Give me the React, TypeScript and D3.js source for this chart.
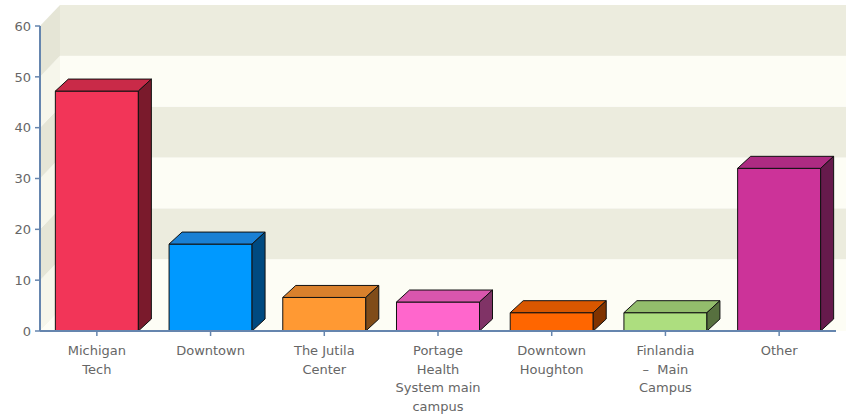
import React from "react";
import * as d3 from "d3";

// data
const categories = [
  "Michigan Tech",
  "Downtown",
  "The Jutila Center",
  "Portage Health System main campus",
  "Downtown Houghton",
  "Finlandia - Main Campus",
  "Other",
];
const labelLines = [
  ["Michigan", "Tech"],
  ["Downtown"],
  ["The Jutila", "Center"],
  ["Portage", "Health", "System main", "campus"],
  ["Downtown", "Houghton"],
  ["Finlandia", "\u2013  Main", "Campus"],
  ["Other"],
];
const values = [47.2, 17.1, 6.6, 5.7, 3.6, 3.6, 32];
const yTicks = [0, 10, 20, 30, 40, 50, 60];

// front / top / side colours per bar
const frontColors = ["#F23558", "#0099FF", "#FF9933", "#FF66CC", "#FF6600", "#ADDE7F", "#CC3399"];
const topColors = ["#C92A48", "#1A80D4", "#D9802C", "#D956AD", "#D95700", "#93BD6C", "#AD2B82"];
const sideColors = ["#7A1A2C", "#004A80", "#804C19", "#803366", "#803300", "#57703F", "#661A4C"];

const W = 846;
const H = 415;
const margin = { top: 26, right: 10, bottom: 84, left: 40 };
const plotRight = 836;
const wallDx = 20;
const wallDy = -21;
const barDx = 13;
const barDy = -12;
const font = "'DejaVu Sans', Verdana, sans-serif";

export default function App() {
  const y = d3.scaleLinear().domain([0, 60]).range([H - margin.bottom, margin.top]);
  const x = d3
    .scaleBand<string>()
    .domain(categories)
    .range([margin.left, plotRight])
    .paddingInner(0.27)
    .paddingOuter(0.135);

  const y0 = y(0);
  const bands = d3.range(0, 60, 10);

  return (
    <svg
      width={W}
      height={H}
      style={{ position: "absolute", left: 0, top: 0, display: "block" }}
      fontFamily={font}
    >
      <rect width={W} height={H} fill="#ffffff" />

      {/* back wall bands */}
      {bands.map((b, i) => (
        <rect
          key={"bw" + b}
          x={margin.left + wallDx}
          y={y(b + 10) + wallDy}
          width={W - margin.left - wallDx}
          height={y(b) - y(b + 10)}
          fill={i % 2 === 0 ? "#FDFDF5" : "#ECECDE"}
        />
      ))}
      {/* left side wall bands */}
      {bands.map((b, i) => (
        <path
          key={"sw" + b}
          d={`M${margin.left},${y(b)} L${margin.left},${y(b + 10)} L${margin.left + wallDx},${y(b + 10) + wallDy} L${margin.left + wallDx},${y(b) + wallDy} Z`}
          fill={i % 2 === 0 ? "#F6F6EB" : "#E5E5D6"}
        />
      ))}
      {/* floor */}
      <path
        d={`M${margin.left},${y0} L${margin.left + wallDx},${y0 + wallDy} L${W},${y0 + wallDy} L${W},${y0} Z`}
        fill="#FDFDF5"
      />

      {/* bars */}
      {categories.map((c, i) => {
        const x0 = x(c) as number;
        const x1 = x0 + x.bandwidth();
        const yt = y(values[i]);
        return (
          <g key={c} stroke="#111" strokeWidth={1} strokeLinejoin="round">
            <rect x={x0} y={yt} width={x1 - x0} height={y0 - yt} fill={frontColors[i]} />
            <path
              d={`M${x0},${yt} L${x0 + barDx},${yt + barDy} L${x1 + barDx},${yt + barDy} L${x1},${yt} Z`}
              fill={topColors[i]}
            />
            <path
              d={`M${x1},${yt} L${x1 + barDx},${yt + barDy} L${x1 + barDx},${y0 + barDy} L${x1},${y0} Z`}
              fill={sideColors[i]}
            />
          </g>
        );
      })}

      {/* y axis */}
      <line x1={margin.left} x2={margin.left} y1={y(60)} y2={y0} stroke="#6585AE" strokeWidth={2} />
      {yTicks.map((t) => (
        <g key={"yt" + t}>
          <line x1={margin.left - 5} x2={margin.left} y1={y(t)} y2={y(t)} stroke="#6585AE" strokeWidth={1.5} />
          <text
            x={margin.left - 9}
            y={y(t)}
            dy="0.36em"
            textAnchor="end"
            fontSize={13}
            fill="#666"
          >
            {t}
          </text>
        </g>
      ))}

      {/* x axis */}
      <line x1={margin.left} x2={plotRight} y1={y0} y2={y0} stroke="#6585AE" strokeWidth={2} />
      {categories.map((c, i) => {
        const cx = (x(c) as number) + x.bandwidth() / 2;
        return (
          <g key={"xt" + c}>
            <line x1={cx} x2={cx} y1={y0} y2={y0 + 5} stroke="#6585AE" strokeWidth={1.5} />
            <text textAnchor="middle" fontSize={13} fill="#666">
              {labelLines[i].map((l, j) => (
                <tspan key={j} x={cx} y={y0 + 24 + j * 18.5} xmlSpace="preserve">
                  {l}
                </tspan>
              ))}
            </text>
          </g>
        );
      })}
    </svg>
  );
}
